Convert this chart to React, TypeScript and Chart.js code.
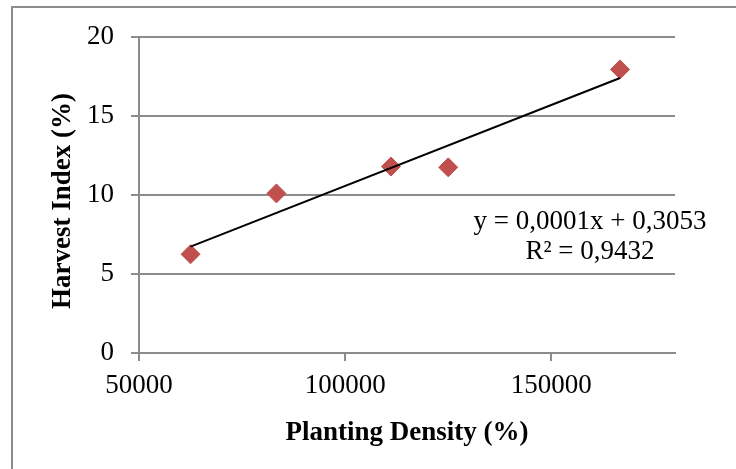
import { useEffect, useRef } from "react";
import { Chart, registerables } from "chart.js";

Chart.register(...registerables);

// Plant population per hectare and the harvest index measured at each.
const densities = [62500, 83333, 111111, 125000, 166667];
const harvestIndex = [6.25, 10.1, 11.8, 11.75, 17.95];

const xTicks = [50000, 100000, 150000];
const yTicks = [0, 5, 10, 15, 20];

const xTitle = "Planting Density (%)";
const yTitle = "Harvest Index (%)";
const equationLines = ["y = 0,0001x + 0,3053", "R² = 0,9432"];

const GRID = "#8c8c8c";
const MARKER = "#C0504D";
const FONT = '"Liberation Serif", "Times New Roman", serif';

// Ordinary least-squares fit, used for the linear trendline.
function linearFit(xs: number[], ys: number[]) {
  const n = xs.length;
  const mx = xs.reduce((a, b) => a + b, 0) / n;
  const my = ys.reduce((a, b) => a + b, 0) / n;
  let sxy = 0;
  let sxx = 0;
  for (let i = 0; i < n; i++) {
    sxy += (xs[i] - mx) * (ys[i] - my);
    sxx += (xs[i] - mx) ** 2;
  }
  const slope = sxy / sxx;
  return { slope, intercept: my - slope * mx };
}

// Outer frame, the vertical axis title and the trendline equation.
const frameAndEquation = {
  id: "frameAndEquation",
  beforeDraw(chart: any) {
    const { ctx } = chart;
    ctx.save();
    ctx.strokeStyle = GRID;
    ctx.lineWidth = 2;
    ctx.beginPath();
    ctx.moveTo(12, chart.height);
    ctx.lineTo(12, 7);
    ctx.lineTo(chart.width, 7);
    ctx.stroke();
    ctx.restore();
  },
  afterDraw(chart: any) {
    const { ctx, chartArea } = chart;
    ctx.save();
    ctx.fillStyle = "#000";

    // vertical axis title, read bottom to top
    ctx.font = `bold 27px ${FONT}`;
    ctx.textAlign = "center";
    ctx.textBaseline = "middle";
    ctx.translate(63, (chartArea.top + chartArea.bottom) / 2 + 6);
    ctx.rotate(-Math.PI / 2);
    ctx.fillText(yTitle, 0, 0);
    ctx.setTransform(1, 0, 0, 1, 0, 0);

    ctx.font = `27px ${FONT}`;
    ctx.textAlign = "center";
    ctx.textBaseline = "alphabetic";
    const cx = chartArea.right - 85;
    ctx.fillText(equationLines[0], cx, chartArea.top + 192);
    ctx.fillText(equationLines[1], cx, chartArea.top + 222);
    ctx.restore();
  },
};

export default function App() {
  const canvasRef = useRef<HTMLCanvasElement | null>(null);

  useEffect(() => {
    if (!canvasRef.current) return;
    Chart.defaults.font.family = FONT;

    const { slope, intercept } = linearFit(densities, harvestIndex);
    const xMin = Math.min(...densities);
    const xMax = Math.max(...densities);
    const trend = [
      { x: xMin, y: intercept + slope * xMin },
      { x: xMax, y: intercept + slope * xMax },
    ];

    const chart = new Chart(canvasRef.current, {
      type: "scatter",
      data: {
        datasets: [
          {
            type: "line",
            label: "Linear trend",
            data: trend,
            showLine: true,
            borderColor: "#000",
            borderWidth: 2,
            pointRadius: 0,
            fill: false,
            order: 0,
          } as any,
          {
            label: "Harvest Index",
            data: densities.map((x, i) => ({ x, y: harvestIndex[i] })),
            pointStyle: "rectRot",
            pointRadius: 9.5,
            backgroundColor: MARKER,
            borderColor: MARKER,
            borderWidth: 1,
            order: 1,
          },
        ],
      },
      options: {
        responsive: false,
        animation: false,
        devicePixelRatio: 1,
        layout: { padding: { left: 0, top: 37, right: 61, bottom: 0 } },
        plugins: {
          legend: { display: false },
          tooltip: { enabled: false },
        },
        scales: {
          x: {
            type: "linear",
            min: 50000,
            max: 180000,
            afterBuildTicks: (s: any) => {
              s.ticks = xTicks.map((value) => ({ value }));
            },
            afterFit: (s: any) => {
              s.height = 116;
            },
            grid: {
              drawOnChartArea: false,
              drawTicks: true,
              tickLength: 8,
              color: GRID,
              lineWidth: 2,
            },
            border: { display: true, color: GRID, width: 2 },
            ticks: {
              padding: 9,
              color: "#000",
              font: { size: 27 },
              maxRotation: 0,
              autoSkip: false,
              callback: (v: any) => String(v),
            },
            title: {
              display: true,
              text: xTitle,
              color: "#000",
              font: { size: 27, weight: "bold" },
              padding: { top: 0, bottom: 20 },
            },
          },
          y: {
            type: "linear",
            min: 0,
            max: 20,
            afterBuildTicks: (s: any) => {
              s.ticks = yTicks.map((value) => ({ value }));
            },
            afterFit: (s: any) => {
              s.width = 139;
            },
            grid: { color: GRID, lineWidth: 2, tickLength: 8 },
            border: { display: true, color: GRID, width: 2 },
            ticks: {
              padding: 17,
              color: "#000",
              font: { size: 27 },
            },
            title: { display: false },
          },
        },
      },
      plugins: [frameAndEquation],
    });

    return () => chart.destroy();
  }, []);

  return (
    <div style={{ position: "absolute", left: 0, top: 0, width: 736, height: 469, background: "#fff" }}>
      <canvas ref={canvasRef} width={736} height={469} style={{ display: "block" }} />
    </div>
  );
}
